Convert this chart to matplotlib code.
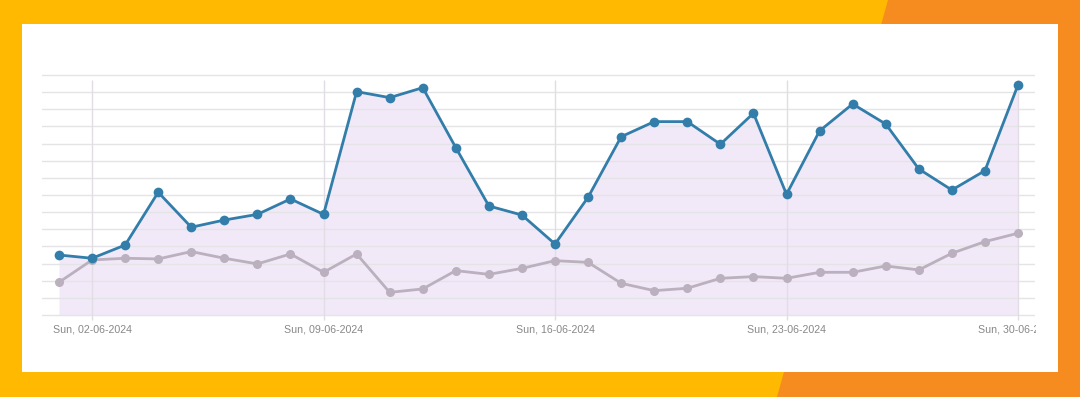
import matplotlib
matplotlib.use("Agg")
import matplotlib.pyplot as plt
from matplotlib.patches import Rectangle, Polygon
from matplotlib.transforms import Bbox, blended_transform_factory

# ---------------- data ----------------
days = list(range(1, 31))  # June 2024
tick_days = [2, 9, 16, 23, 30]
tick_labels = ["Sun, 02-06-2024", "Sun, 09-06-2024", "Sun, 16-06-2024",
               "Sun, 23-06-2024", "Sun, 30-06-2024"]
series_blue = [3.50, 3.31, 4.08, 7.16, 5.12, 5.54, 5.87, 6.77, 5.87, 13.03,
               12.68, 13.26, 9.76, 6.36, 5.83, 4.14, 6.87, 10.40, 11.28, 11.28,
               9.96, 11.77, 7.04, 10.74, 12.31, 11.14, 8.52, 7.29, 8.42, 13.42]
series_grey = [1.91, 3.21, 3.31, 3.27, 3.70, 3.31, 2.98, 3.56, 2.49, 3.56,
               1.32, 1.52, 2.59, 2.37, 2.72, 3.17, 3.07, 1.85, 1.42, 1.56,
               2.14, 2.24, 2.14, 2.49, 2.49, 2.86, 2.63, 3.60, 4.28, 4.77]
grid_levels = list(range(0, 15))

# ---------------- figure ----------------
W, H = 1080, 397
fig = plt.figure(figsize=(W / 100, H / 100), dpi=100)
fig.patch.set_facecolor("#FFB900")

def fx(x):
    return x / W

def fy(y):
    return 1 - y / H

# orange slanted band on the right
fig.patches.append(Polygon([(fx(888), fy(0)), (fx(W), fy(0)), (fx(W), fy(H)), (fx(777), fy(H))],
                           closed=True, transform=fig.transFigure,
                           facecolor="#F68B1F", edgecolor="none", zorder=0))
# white card
fig.patches.append(Rectangle((fx(22), fy(372)), fx(1058) - fx(22), fy(24) - fy(372),
                             transform=fig.transFigure, facecolor="white",
                             edgecolor="none", zorder=1))

# axes: x from 42..1035 px, y grid 0..14 maps 315..75 px
px_per_day = (1018 - 59) / 29.0
px_per_unit = (315 - 75) / 14.0
xmin = 1 - (59 - 42) / px_per_day
xmax = 30 + (1035 - 1018) / px_per_day
ylo, yhi = -0.6, 14.3
top_px = 75 - (yhi - 14) * px_per_unit
bot_px = 315 + (0 - ylo) * px_per_unit
ax = fig.add_axes([fx(42), fy(bot_px), fx(1035) - fx(42), fy(top_px) - fy(bot_px)])
ax.set_facecolor("none")
ax.set_zorder(2)
ax.set_xlim(xmin, xmax)
ax.set_ylim(ylo, yhi)
for s in ax.spines.values():
    s.set_visible(False)
ax.set_xticks([])
ax.set_yticks([])

# horizontal gridlines
for g in grid_levels:
    ax.axhline(g, color="#E4E4E6", lw=1.0, zorder=1)
# vertical weekly gridlines
ax.vlines(tick_days, -0.3, 13.7, color="#E2DDE4", lw=1.0, zorder=1)

# fill under blue line
ax.fill_between(days, series_blue, 0, color="#F2E9F8", zorder=0.5, lw=0)

ax.plot(days, series_grey, color="#BAB0BE", lw=2.0, marker="o", ms=6.5,
        markeredgewidth=0, zorder=3)
ax.plot(days, series_blue, color="#327DAA", lw=2.0, marker="o", ms=7,
        markeredgewidth=0, zorder=4)

# tick labels (clipped at the plot's right edge as in the reference)
tr = blended_transform_factory(ax.transData, fig.transFigure)
clip = Bbox.from_extents(0, 0, 1036, H)
for d, lab in zip(tick_days, tick_labels):
    t = ax.text(d, fy(330), lab, transform=tr, ha="center", va="center",
                fontsize=7.7, color="#888888", family="Liberation Sans", zorder=5)
    t.set_clip_box(clip)
    t.set_clip_on(True)

fig.savefig("out.png", dpi=100, facecolor=fig.get_facecolor())
